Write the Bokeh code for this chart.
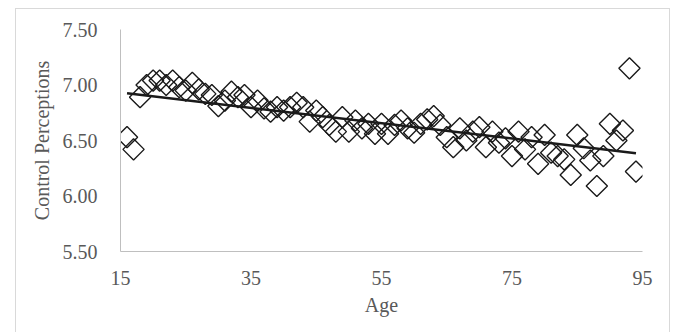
import math
from bokeh.plotting import figure
from bokeh.models import FixedTicker, PrintfTickFormatter
from bokeh.embed import file_html
from bokeh.resources import INLINE

ages = list(range(16, 95))
control = [
    6.53, 6.42, 6.89, 7.00, 7.04, 7.04, 7.00, 7.04, 6.98, 6.95,   # 16-25
    7.02, 6.96, 6.92, 6.91, 6.81, 6.86, 6.94, 6.89, 6.91, 6.80,   # 26-35
    6.86, 6.79, 6.76, 6.80, 6.77, 6.80, 6.84, 6.80, 6.67, 6.77,   # 36-45
    6.71, 6.64, 6.58, 6.71, 6.58, 6.68, 6.61, 6.65, 6.56, 6.65,   # 46-55
    6.56, 6.64, 6.68, 6.61, 6.57, 6.65, 6.69, 6.72, 6.64, 6.53,   # 56-65
    6.44, 6.61, 6.50, 6.58, 6.62, 6.44, 6.58, 6.48, 6.52, 6.36,   # 66-75
    6.58, 6.42, 6.53, 6.29, 6.55, 6.39, 6.36, 6.33, 6.19, 6.55,   # 76-85
    6.43, 6.32, 6.09, 6.36, 6.65, 6.50, 6.59, 7.15, 6.22,         # 86-94
]
trend_x = [16, 94]
trend_y = [6.925, 6.386]

x_ticks = [15, 35, 55, 75, 95]
y_ticks = [5.5, 6.0, 6.5, 7.0, 7.5]

p = figure(width=655, height=324, output_backend="svg", toolbar_location=None,
           x_range=(15, 95), y_range=(5.5, 7.5),
           min_border_left=104, min_border_right=29, min_border_top=20, min_border_bottom=82)
# light chart-area border (Excel style), open at the bottom like the cropped reference
p.styles = {"margin-left": "15px", "margin-top": "8px",
            "border-top": "1px solid #d9d9d9",
            "border-left": "1px solid #d9d9d9",
            "border-right": "1px solid #d9d9d9"}

p.outline_line_color = None
p.xgrid.visible = False
p.ygrid.visible = False

p.scatter(ages, control, marker="square", size=15, angle=math.pi / 4,
          fill_color=None, line_color="#1a1a1a", line_width=1.4)
p.line(trend_x, trend_y, line_color="#1a1a1a", line_width=2.5)

font = "Liberation Serif"
for ax in (p.xaxis[0], p.yaxis[0]):
    ax.axis_line_color = "#bfbfbf"
    ax.axis_line_width = 1
    ax.major_tick_line_color = None
    ax.minor_tick_line_color = None
    ax.major_label_text_font = font
    ax.major_label_text_font_size = "20px"
    ax.major_label_text_color = "#595959"
    ax.axis_label_text_font = font
    ax.axis_label_text_font_size = "20px"
    ax.axis_label_text_color = "#595959"
    ax.axis_label_text_font_style = "normal"

p.xaxis.ticker = FixedTicker(ticks=x_ticks)
p.yaxis.ticker = FixedTicker(ticks=y_ticks)
p.yaxis.formatter = PrintfTickFormatter(format="%.2f")
p.xaxis.axis_label = "Age"
p.yaxis.axis_label = "Control Perceptions"
p.xaxis.major_label_standoff = 13
p.xaxis.axis_label_standoff = 6
p.yaxis.major_label_standoff = 17
p.yaxis.axis_label_standoff = 7

open("out.html", "w").write(file_html(p, INLINE))
